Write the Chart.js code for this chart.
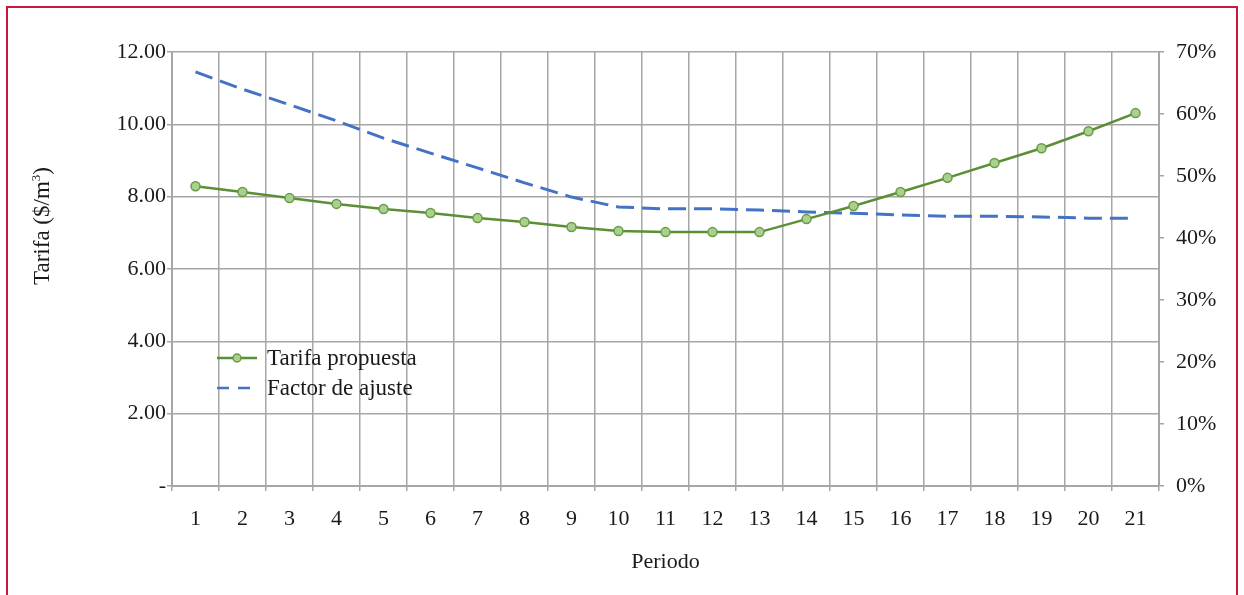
<!DOCTYPE html>
<html>
<head>
<meta charset="utf-8">
<script src="https://cdn.jsdelivr.net/npm/chart.js@4"></script>
<style>
  body { margin: 0; background: #fff; }
  #wrap { position: relative; width: 1244px; height: 595px; overflow: hidden; }
  #frame { position: absolute; left: 6px; top: 6px; width: 1232px; height: 620px;
    border: 2px solid #c8193c; box-sizing: border-box; pointer-events: none; }
  #legend { position: absolute; left: 217px; top: 343px; font-family: "Liberation Serif", serif;
    font-size: 23px; color: #1a1a1a; line-height: 30px; }
  .row { display: flex; align-items: center; }
  .sample { width: 40px; height: 14px; position: relative; margin-right: 10px; }
  #ytitle { position: absolute; left: 42px; top: 226px; transform: translate(-50%, -50%) rotate(-90deg);
    font-family: "Liberation Serif", serif; font-size: 23px; color: #1a1a1a; white-space: nowrap; }
  #ytitle sup { font-size: 13px; vertical-align: 9px; line-height: 0; }
</style>
</head>
<body>
<div id="wrap">
  <canvas id="chart" width="1244" height="595"></canvas>
  <div id="frame"></div>
  <div id="ytitle">Tarifa ($/m<sup>3</sup>)</div>
  <div id="legend">
    <div class="row">
      <svg class="sample" width="40" height="14"><line x1="0" y1="7" x2="40" y2="7" stroke="#5b8f35" stroke-width="2.5"/><circle cx="20" cy="7" r="4" fill="#a9d08e" stroke="#6a9b45" stroke-width="1.5"/></svg>
      <span>Tarifa propuesta</span>
    </div>
    <div class="row">
      <svg class="sample" width="40" height="14"><line x1="0" y1="7" x2="40" y2="7" stroke="#4472c4" stroke-width="2.5" stroke-dasharray="12 9"/></svg>
      <span>Factor de ajuste</span>
    </div>
  </div>
</div>
<script>
const periodos = ["1","2","3","4","5","6","7","8","9","10","11","12","13","14","15","16","17","18","19","20","21"]
const tarifa = [8.29, 8.13, 7.96, 7.80, 7.66, 7.55, 7.41, 7.30, 7.16, 7.05, 7.02, 7.02, 7.02, 7.38, 7.74, 8.13, 8.52, 8.93, 9.34, 9.81, 10.31]
const factor = [66.8, 64.0, 61.5, 58.9, 56.1, 53.7, 51.3, 48.9, 46.6, 45.0, 44.7, 44.7, 44.5, 44.2, 44.0, 43.7, 43.5, 43.5, 43.4, 43.2, 43.2]

const fuente = { family: "Liberation Serif", size: 22 }
const gris = "#a6a6a6"

new Chart(document.getElementById("chart"), {
  type: 'line',
  data: {
    labels: periodos,
    datasets: [{
        label: "Tarifa propuesta",
        data: tarifa,
        yAxisID: 'y',
        borderColor: "#5b8f35",
        borderWidth: 2.5,
        pointRadius: 4.5,
        pointBackgroundColor: "#a9d08e",
        pointBorderColor: "#6a9b45",
        pointBorderWidth: 1.5,
        tension: 0
      },
      {
        label: "Factor de ajuste",
        data: factor,
        yAxisID: 'y1',
        borderColor: "#4472c4",
        borderWidth: 3,
        borderDash: [18, 8],
        pointRadius: 0,
        tension: 0
      }
    ]
  },
  options: {
    responsive: false,
    animation: false,
    layout: { padding: { top: 52 } },
    plugins: { legend: { display: false }, tooltip: { enabled: false } },
    scales: {
      x: {
        offset: true,
        grid: { offset: true, color: gris, lineWidth: 1.5, tickLength: 5 },
        border: { color: gris, width: 2 },
        ticks: { color: "#1a1a1a", font: fuente, padding: 15, maxRotation: 0 },
        title: { display: true, text: "Periodo", color: "#1a1a1a", font: fuente, padding: { top: 0, bottom: 20 } },
        afterFit: function(scale){ scale.height = 109 }
      },
      y: {
        position: 'left',
        min: 0, max: 12,
        ticks: { stepSize: 2, color: "#1a1a1a", font: fuente, padding: 1,
          callback: function(v){ return v === 0 ? "-" : v.toFixed(2) } },
        grid: { color: gris, lineWidth: 1.5, tickLength: 5 },
        border: { color: gris, width: 2 },
        afterFit: function(scale){ scale.width = 172 }
      },
      y1: {
        position: 'right',
        min: 0, max: 70,
        ticks: { stepSize: 10, color: "#1a1a1a", font: fuente, padding: 12,
          callback: function(v){ return v + "%" } },
        grid: { drawOnChartArea: false, color: gris, lineWidth: 1.5, tickLength: 5 },
        border: { color: gris, width: 2 },
        afterFit: function(scale){ scale.width = 85 }
      }
    }
  }
});
</script>
</body>
</html>
